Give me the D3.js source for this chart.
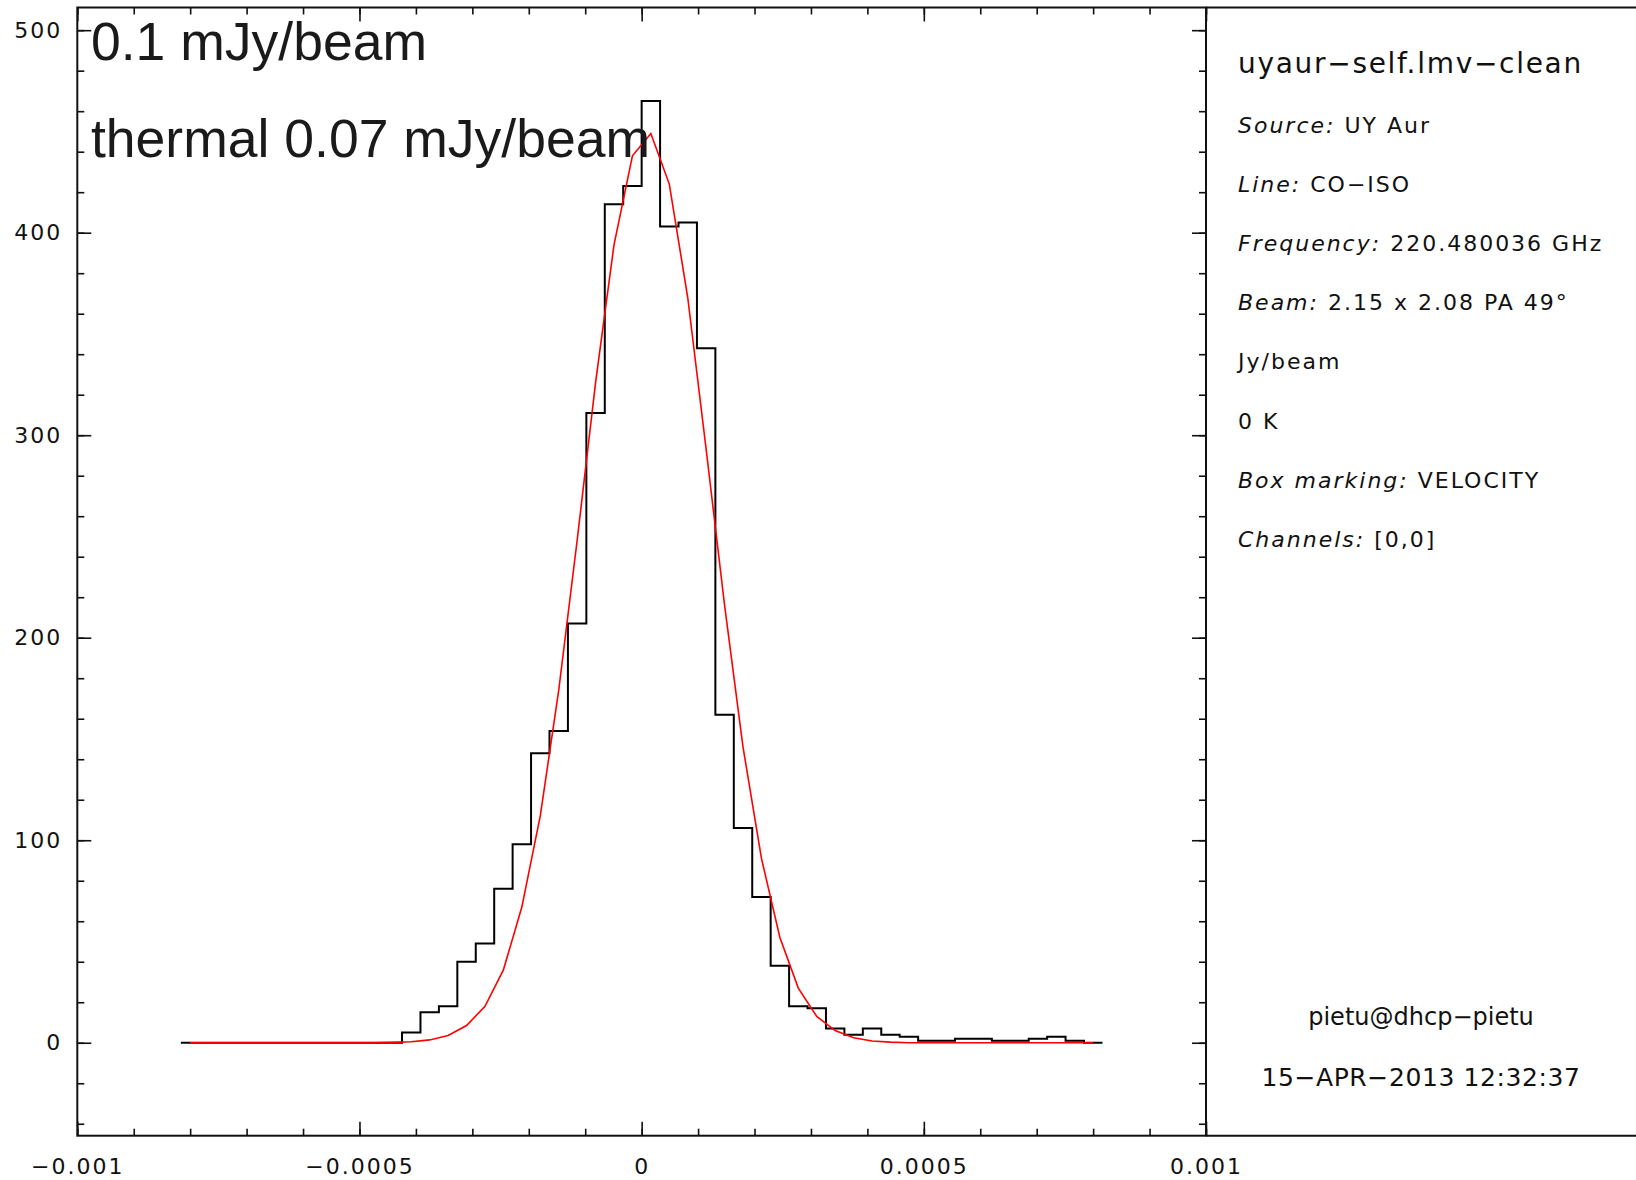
<!DOCTYPE html>
<html>
<head>
<meta charset="utf-8">
<script src="https://cdn.jsdelivr.net/npm/d3@7/dist/d3.min.js"></script>
<style>
  body { margin: 0; background: #fff; }
  svg { display: block; }
  .lbl { font-family: "DejaVu Sans", sans-serif; font-size: 22px; letter-spacing: 2px; fill: #111; }
</style>
</head>
<body>
<div id="chart"></div>
<script>
// pixel value histogram, 50 equal bins between histMin and histMax
const histMin = -0.0008165;
const histMax = 0.0008165;
const counts = [0, 0, 0, 0, 0, 0, 0, 0, 0, 0, 0, 0, 5, 15, 18, 40, 49, 76, 98, 143,
  154, 207, 311, 414, 423, 465, 403, 405, 343, 162, 106, 72, 38, 18, 17, 7, 4, 7, 4, 3,
  1, 1, 2, 2, 1, 1, 2, 3, 1, 0];
// gaussian fit, one value per bin centre
const fit = [0, 0, 0, 0, 0, 0, 0, 0, 0, 0, 0, 0.2, 0.5, 1.4, 3.6, 8.5, 18, 36, 67, 112,
  174, 248, 326, 394, 438, 449, 424, 368, 293, 216, 146, 91, 52, 27, 13, 6, 2.5, 0.9, 0.3, 0,
  0, 0, 0, 0, 0, 0, 0, 0, 0, 0];

const xMajor = [-0.001, -0.0005, 0, 0.0005, 0.001];
const xLabels = ["\u22120.001", "\u22120.0005", "0", "0.0005", "0.001"];
const yMajor = [0, 100, 200, 300, 400, 500];
const yLabels = ["0", "100", "200", "300", "400", "500"];

const noiseLines = ["0.1 mJy/beam", "thermal 0.07 mJy/beam"];
const infoTitle = "uyaur\u2212self.lmv\u2212clean";
const infoLines = [
  ["Source:", " UY Aur"],
  ["Line:", " CO\u2212ISO"],
  ["Frequency:", " 220.480036 GHz"],
  ["Beam:", " 2.15 x 2.08 PA 49\u00b0"],
  ["", "Jy/beam"],
  ["", "0 K"],
  ["Box marking:", " VELOCITY"],
  ["Channels:", " [0,0]"]
];
const footer = ["pietu@dhcp\u2212pietu", "15\u2212APR\u22122013 12:32:37"];

const W = 1636, H = 1180;
const plot = { left: 77.3, right: 1206, top: 7.5, bottom: 1135.7 };

const svg = d3.select("#chart").append("svg")
  .attr("width", W)
  .attr("height", H);

const x = d3.scaleLinear().domain([-0.001, 0.001]).range([plot.left, plot.right]);
const y = d3.scaleLinear().domain([-45.9, 511.2]).range([plot.bottom, plot.top]);

const xMinor = x.ticks(20);
const yMinor = d3.range(-40, 511, 20);

function tickStyle(g) {
  g.select(".domain").remove();
  g.selectAll(".tick line").attr("stroke", "#111").attr("stroke-width", 1.6);
  g.selectAll("text").attr("class", "lbl").attr("fill", null);
}

// bottom
svg.append("g")
  .attr("transform", `translate(0,${plot.bottom})`)
  .call(d3.axisBottom(x).tickValues(xMinor).tickSize(-7).tickFormat(""))
  .call(tickStyle);
svg.append("g")
  .attr("transform", `translate(0,${plot.bottom})`)
  .call(d3.axisBottom(x).tickValues(xMajor).tickSize(-14).tickPadding(23)
    .tickFormat((d, i) => xLabels[i]))
  .call(tickStyle);

// top
svg.append("g")
  .attr("transform", `translate(0,${plot.top})`)
  .call(d3.axisTop(x).tickValues(xMinor).tickSize(-7).tickFormat(""))
  .call(tickStyle);
svg.append("g")
  .attr("transform", `translate(0,${plot.top})`)
  .call(d3.axisTop(x).tickValues(xMajor).tickSize(-14).tickFormat(""))
  .call(tickStyle);

// left
svg.append("g")
  .attr("transform", `translate(${plot.left},0)`)
  .call(d3.axisLeft(y).tickValues(yMinor).tickSize(-7).tickFormat(""))
  .call(tickStyle);
svg.append("g")
  .attr("transform", `translate(${plot.left},0)`)
  .call(d3.axisLeft(y).tickValues(yMajor).tickSize(-14).tickPadding(15)
    .tickFormat((d, i) => yLabels[i]))
  .call(tickStyle);

// right
svg.append("g")
  .attr("transform", `translate(${plot.right},0)`)
  .call(d3.axisRight(y).tickValues(yMinor).tickSize(-7).tickFormat(""))
  .call(tickStyle);
svg.append("g")
  .attr("transform", `translate(${plot.right},0)`)
  .call(d3.axisRight(y).tickValues(yMajor).tickSize(-14).tickFormat(""))
  .call(tickStyle);

// frame + side panel
svg.append("rect")
  .attr("x", plot.left)
  .attr("y", plot.top)
  .attr("width", plot.right - plot.left)
  .attr("height", plot.bottom - plot.top)
  .attr("fill", "none")
  .attr("stroke", "#111")
  .attr("stroke-width", 2);

[plot.top, plot.bottom].forEach(yy => {
  svg.append("line")
    .attr("x1", plot.right).attr("x2", W)
    .attr("y1", yy).attr("y2", yy)
    .attr("stroke", "#111")
    .attr("stroke-width", 2);
});

// histogram
const nBins = counts.length;
const edges = d3.range(nBins + 1).map(i => histMin + i * (histMax - histMin) / nBins);
const stepPts = counts.map((c, i) => [edges[i], c]);
stepPts.push([edges[nBins], counts[nBins - 1]]);

svg.append("path")
  .datum(stepPts)
  .attr("fill", "none")
  .attr("stroke", "#000")
  .attr("stroke-width", 2)
  .attr("d", d3.line()
    .x(d => x(d[0]))
    .y(d => y(d[1]))
    .curve(d3.curveStepAfter));

svg.append("path")
  .datum(fit.map((v, i) => [(edges[i] + edges[i + 1]) / 2, v]))
  .attr("fill", "none")
  .attr("stroke", "#ff0000")
  .attr("stroke-width", 1.6)
  .attr("d", d3.line()
    .x(d => x(d[0]))
    .y(d => y(d[1])));

// noise annotations
svg.selectAll(".noise")
  .data(noiseLines)
  .join("text")
  .attr("class", "noise")
  .attr("x", 91)
  .attr("y", (d, i) => 60 + i * 96.5)
  .style("font-family", "'Liberation Sans', Arial, sans-serif")
  .style("font-size", "53.5px")
  .style("fill", "#1a1a1a")
  .text(d => d);

// info panel
const panelX = 1238;
svg.append("text")
  .attr("class", "lbl")
  .attr("x", panelX)
  .attr("y", 73)
  .style("font-size", "28px")
  .style("letter-spacing", "1.7px")
  .text(infoTitle);

const info = svg.selectAll(".info")
  .data(infoLines)
  .join("text")
  .attr("class", "lbl info")
  .attr("x", panelX)
  .attr("y", (d, i) => 132.5 + i * 59.2);

info.append("tspan")
  .style("font-style", "italic")
  .text(d => d[0]);
info.append("tspan")
  .text(d => d[1]);

svg.selectAll(".foot")
  .data(footer)
  .join("text")
  .attr("class", "lbl foot")
  .attr("x", (plot.right + W) / 2)
  .attr("y", (d, i) => 1025 + i * 61)
  .attr("text-anchor", "middle")
  .style("font-size", (d, i) => i === 0 ? "24px" : "25px")
  .style("letter-spacing", (d, i) => i === 0 ? "0px" : "0.6px")
  .text(d => d);
</script>
</body>
</html>
